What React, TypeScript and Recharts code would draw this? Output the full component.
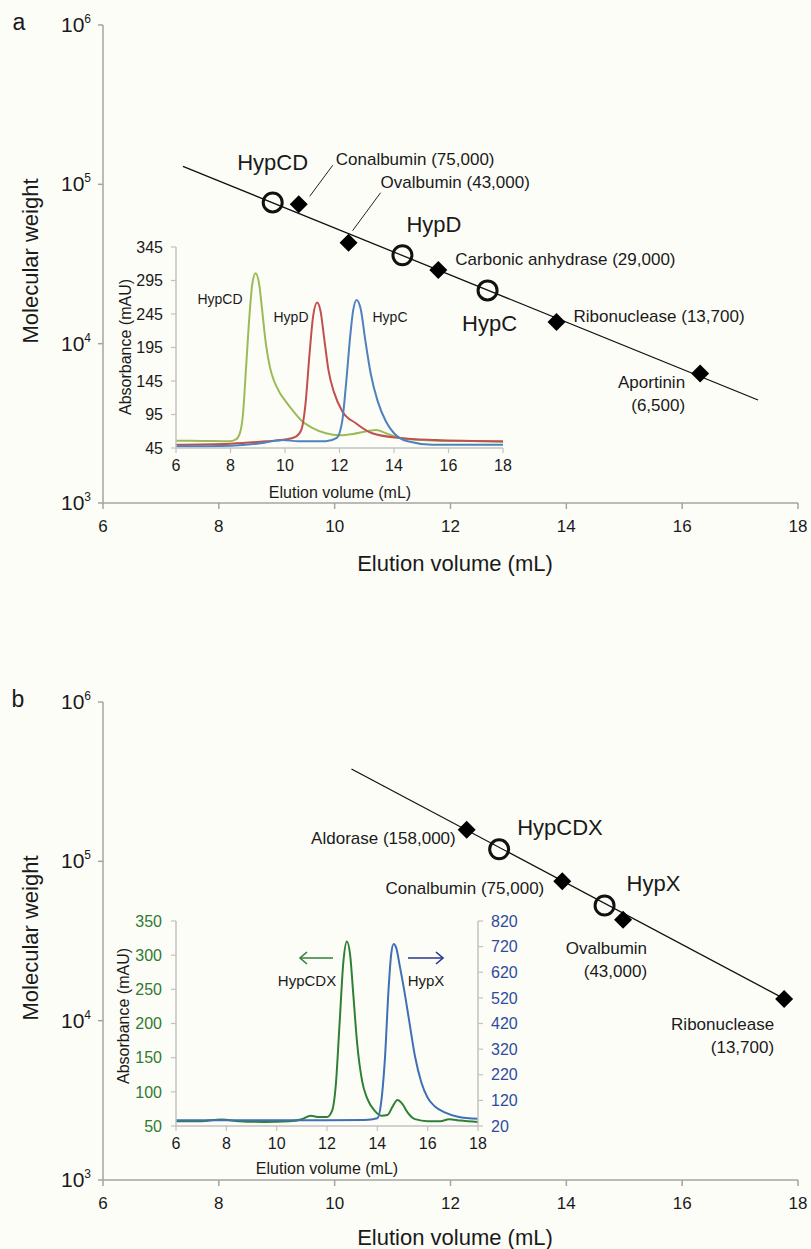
import React from 'react';
import { ComposedChart, XAxis, YAxis, Line, Scatter } from 'recharts';

// ---------- Panel a : calibration ----------
const stdA_names = ['Conalbumin', 'Ovalbumin', 'Carbonic anhydrase', 'Ribonuclease', 'Aportinin'];
const stdA_volume = [9.38, 10.24, 11.79, 13.83, 16.31];
const stdA_mw = [75000, 43000, 29000, 13700, 6500];
const smpA_names = ['HypCD', 'HypD', 'HypC'];
const smpA_volume = [8.93, 11.17, 12.64];
const smpA_mw = [77000, 35900, 21600];
const fitA_volume = [7.38, 17.31];
const fitA_mw = [129700, 4430];

// ---------- Panel b : calibration ----------
const stdB_names = ['Aldorase', 'Conalbumin', 'Ovalbumin', 'Ribonuclease'];
const stdB_volume = [12.28, 13.93, 14.98, 17.76];
const stdB_mw = [158000, 75000, 43000, 13700];
const smpB_names = ['HypCDX', 'HypX'];
const smpB_volume = [12.84, 14.66];
const smpB_mw = [119000, 52800];
const fitB_volume = [10.29, 17.8];
const fitB_mw = [380000, 13500];

const mainTicksX = [6, 8, 10, 12, 14, 16, 18];
const mainTicksY = [1000, 10000, 100000, 1000000];

// ---------- Inset a : chromatograms (mAU) ----------
const insetTicksX = [6, 8, 10, 12, 14, 16, 18];
const insetA_ticksY = [45, 95, 145, 195, 245, 295, 345];
const hypCD_x = [6, 7, 7.96, 8.2, 8.35, 8.45, 8.58, 8.7, 8.8, 8.92, 9.05, 9.15, 9.3, 9.45, 9.6, 9.8, 10.0, 10.3, 10.6, 11.0, 11.5, 12.0, 12.5, 13.0, 13.35, 13.7, 14.1, 14.6, 15.5, 16.5, 17.5, 18];
const hypCD_y = [56, 55.5, 55, 58, 68, 92, 171, 245, 290, 306, 290, 255, 200, 165, 145, 128, 116, 100, 86, 75, 67, 64, 66, 70, 72, 67, 61, 58, 56, 55.5, 55, 54];
const hypD_x = [6, 8, 9.3, 10.05, 10.4, 10.6, 10.75, 10.9, 11.03, 11.18, 11.3, 11.45, 11.6, 11.8, 12.1, 12.6, 13.2, 14.2, 15.5, 18];
const hypD_y = [50, 51.5, 55, 58, 62, 72, 110, 185, 241, 262, 250, 205, 160, 128, 100, 82, 67, 60, 57, 55];
const hypC_x = [6, 8, 9.1, 9.9, 10.5, 11.5, 11.9, 12.1, 12.25, 12.4, 12.5, 12.63, 12.78, 12.95, 13.15, 13.4, 13.7, 14.0, 14.5, 15.4, 18];
const hypC_y = [47.5, 48.5, 52, 57, 55, 55, 60, 85, 145, 215, 250, 266, 252, 205, 155, 115, 85, 67, 55, 50, 50];

// ---------- Inset b : chromatograms ----------
const insetB_ticksLeft = [50, 100, 150, 200, 250, 300, 350];
const insetB_ticksRight = [20, 120, 220, 320, 420, 520, 620, 720, 820];
const hypCDX_x = [6, 7, 7.8, 8.5, 9.5, 10.5, 11.0, 11.35, 11.7, 12.0, 12.2, 12.35, 12.5, 12.65, 12.79, 12.92, 13.05, 13.2, 13.4, 13.6, 13.9, 14.15, 14.4, 14.6, 14.8, 15.0, 15.2, 15.5, 16.0, 16.5, 16.85, 17.3, 18];
const hypCDX_y = [57, 57, 59.5, 57, 56, 57, 60, 65, 63, 63, 72, 110, 200, 290, 320, 300, 240, 170, 115, 90, 72, 65, 66, 78, 88, 82, 70, 60, 57, 57, 60, 58, 56];
const hypX_x = [6, 8, 10, 12, 13.5, 14.0, 14.15, 14.3, 14.45, 14.55, 14.65, 14.75, 14.9, 15.05, 15.25, 15.5, 15.75, 16.0, 16.3, 16.7, 17.2, 18];
const hypX_y = [42, 42, 42, 42, 43, 50, 110, 280, 560, 690, 730, 715, 640, 560, 440, 290, 190, 130, 95, 72, 56, 48];

// ---------- styles ----------
const FONT = '"Liberation Sans", Arial, Helvetica, sans-serif';
const BG = '#fdfdf8';
const TXT = '#1a1a1a';
const AX_MAIN = '#a3a3a3';
const AX_INSET = '#c2c2c2';
const C_GREEN_A = '#9bbb59';
const C_RED_A = '#c0504d';
const C_BLUE_A = '#4f81bd';
const C_GREEN_B = '#2f8036';
const C_BLUE_B = '#3f6fb5';
const T_GREEN_B = '#2f7a31';
const T_BLUE_B = '#2d4c9e';
const ARROW_BLUE = '#2a3592';

type LabelSpec = { dx: number; dy: number; anchor: 'start' | 'middle' | 'end'; split?: boolean; leader?: [number, number, number, number] };

const layoutA: Record<string, LabelSpec> = {
  Conalbumin: { dx: 37, dy: -45, anchor: 'start', leader: [11, -8, 34, -39] },
  Ovalbumin: { dx: 32, dy: -60, anchor: 'start', leader: [4, -12, 32, -50] },
  'Carbonic anhydrase': { dx: 17, dy: -10, anchor: 'start' },
  Ribonuclease: { dx: 17, dy: -5, anchor: 'start' },
  Aportinin: { dx: -15, dy: 9, anchor: 'end', split: true },
  HypCD: { dx: 0, dy: -40, anchor: 'middle' },
  HypD: { dx: 4, dy: -31, anchor: 'start' },
  HypC: { dx: 2, dy: 33, anchor: 'middle' },
};
const layoutB: Record<string, LabelSpec> = {
  Aldorase: { dx: -11, dy: 9, anchor: 'end' },
  Conalbumin: { dx: -18, dy: 7, anchor: 'end' },
  Ovalbumin: { dx: 24, dy: 29, anchor: 'end', split: true },
  Ribonuclease: { dx: -10, dy: 26, anchor: 'end', split: true },
  HypCDX: { dx: 18, dy: -22, anchor: 'start' },
  HypX: { dx: 22, dy: -22, anchor: 'start' },
};

const zipXY = (xs: number[], ys: number[]) => xs.map((x, i) => ({ x, y: ys[i] }));
const zipPts = (names: string[], vs: number[], mws: number[]) => names.map((name, i) => ({ name, v: vs[i], mw: mws[i] }));
const zipFit = (vs: number[], mws: number[]) => vs.map((v, i) => ({ v, mw: mws[i] }));

const fmt = (n: number) => n.toLocaleString('en-US');

const makeStdShape = (layout: Record<string, LabelSpec>) => (props: any) => {
  const { cx, cy } = props;
  const p = props.payload || props;
  const L = layout[p.name];
  const h = 9;
  if (cx == null || cy == null) return <g />;
  return (
    <g>
      <polygon points={`${cx},${cy - h} ${cx + h},${cy} ${cx},${cy + h} ${cx - h},${cy}`} fill="#000" />
      {L && L.leader && (
        <line x1={cx + L.leader[0]} y1={cy + L.leader[1]} x2={cx + L.leader[2]} y2={cy + L.leader[3]} stroke="#222" strokeWidth={1} />
      )}
      {L && !L.split && (
        <text x={cx + L.dx} y={cy + L.dy} textAnchor={L.anchor} dominantBaseline="central" fontSize={17} fill={TXT} fontFamily={FONT}>
          {`${p.name} (${fmt(p.mw)})`}
        </text>
      )}
      {L && L.split && (
        <g>
          <text x={cx + L.dx} y={cy + L.dy} textAnchor={L.anchor} dominantBaseline="central" fontSize={17} fill={TXT} fontFamily={FONT}>
            {p.name}
          </text>
          <text x={cx + L.dx} y={cy + L.dy + 23} textAnchor={L.anchor} dominantBaseline="central" fontSize={17} fill={TXT} fontFamily={FONT}>
            {`(${fmt(p.mw)})`}
          </text>
        </g>
      )}
    </g>
  );
};

const makeSmpShape = (layout: Record<string, LabelSpec>) => (props: any) => {
  const { cx, cy } = props;
  const p = props.payload || props;
  const L = layout[p.name];
  if (cx == null || cy == null) return <g />;
  return (
    <g>
      <circle cx={cx} cy={cy} r={9.5} fill="none" stroke="#111" strokeWidth={3} />
      {L && (
        <text x={cx + L.dx} y={cy + L.dy} textAnchor={L.anchor} dominantBaseline="central" fontSize={22} fill={TXT} fontFamily={FONT}>
          {p.name}
        </text>
      )}
    </g>
  );
};

const LogTick = (props: any) => {
  const { x, y, payload } = props;
  const e = Math.round(Math.log10(payload.value));
  return (
    <text x={x - 3} y={y + 7} textAnchor="end" fill={TXT} fontFamily={FONT}>
      <tspan fontSize={21}>10</tspan>
      <tspan fontSize={12} dy={-9}>{e}</tspan>
    </text>
  );
};

const Calibration = ({ top, standards, samples, fit, layout }: any) => (
  <div style={{ position: 'absolute', left: 0, top, width: 811, height: 600 }}>
    <ComposedChart width={811} height={600} margin={{ top: 25, right: 13, bottom: 0, left: 0 }}>
      <XAxis
        type="number"
        dataKey="v"
        domain={[6, 18]}
        ticks={mainTicksX}
        interval={0}
        allowDataOverflow
        height={97}
        axisLine={{ stroke: AX_MAIN, strokeWidth: 1.5 }}
        tickLine={{ stroke: AX_MAIN, strokeWidth: 1.5 }}
        tickSize={6}
        tickMargin={11}
        tick={{ fontSize: 17, fill: TXT, fontFamily: FONT }}
      />
      <YAxis
        type="number"
        dataKey="mw"
        scale="log"
        domain={[1000, 1000000]}
        ticks={mainTicksY}
        interval={0}
        allowDataOverflow
        width={103}
        axisLine={{ stroke: AX_MAIN, strokeWidth: 1.5 }}
        tickLine={{ stroke: AX_MAIN, strokeWidth: 1.5 }}
        tickSize={5}
        tickMargin={4}
        tick={<LogTick />}
      />
      <Line data={fit} dataKey="mw" type="linear" stroke="#111" strokeWidth={1.3} dot={false} activeDot={false} isAnimationActive={false} />
      <Scatter data={standards} dataKey="mw" shape={makeStdShape(layout)} isAnimationActive={false} />
      <Scatter data={samples} dataKey="mw" shape={makeSmpShape(layout)} isAnimationActive={false} />
    </ComposedChart>
  </div>
);

const insetX = (height: number) => (
  <XAxis
    type="number"
    dataKey="x"
    domain={[6, 18]}
    ticks={insetTicksX}
    interval={0}
    allowDataOverflow
    height={height}
    axisLine={{ stroke: AX_INSET, strokeWidth: 1.5 }}
    tickLine={{ stroke: AX_INSET, strokeWidth: 1.2 }}
    tickSize={5}
    tickMargin={7}
    tick={{ fontSize: 16, fill: TXT, fontFamily: FONT }}
  />
);

const InsetA = () => (
  <div style={{ position: 'absolute', left: 100, top: 230, width: 420, height: 280 }}>
    <ComposedChart width={420} height={280} margin={{ top: 17, right: 17, bottom: 0, left: 0 }}>
      {insetX(62)}
      <YAxis
        type="number"
        domain={[45, 345]}
        ticks={insetA_ticksY}
        interval={0}
        allowDataOverflow
        width={76}
        axisLine={{ stroke: AX_INSET, strokeWidth: 1.5 }}
        tickLine={{ stroke: AX_INSET, strokeWidth: 1.2 }}
        tickSize={5}
        tickMargin={8}
        tick={{ fontSize: 16, fill: TXT, fontFamily: FONT }}
      />
      <Line data={zipXY(hypCD_x, hypCD_y)} dataKey="y" type="monotone" stroke={C_GREEN_A} strokeWidth={2} dot={false} activeDot={false} isAnimationActive={false} />
      <Line data={zipXY(hypD_x, hypD_y)} dataKey="y" type="monotone" stroke={C_RED_A} strokeWidth={2} dot={false} activeDot={false} isAnimationActive={false} />
      <Line data={zipXY(hypC_x, hypC_y)} dataKey="y" type="monotone" stroke={C_BLUE_A} strokeWidth={2} dot={false} activeDot={false} isAnimationActive={false} />
    </ComposedChart>
  </div>
);

const InsetB = () => (
  <div style={{ position: 'absolute', left: 100, top: 880, width: 420, height: 310 }}>
    <ComposedChart width={420} height={310} margin={{ top: 41, right: 0, bottom: 0, left: 0 }}>
      {insetX(64)}
      <YAxis
        yAxisId="left"
        orientation="left"
        type="number"
        domain={[50, 350]}
        ticks={insetB_ticksLeft}
        interval={0}
        allowDataOverflow
        width={76}
        axisLine={{ stroke: AX_INSET, strokeWidth: 1.5 }}
        tickLine={{ stroke: AX_INSET, strokeWidth: 1.2 }}
        tickSize={5}
        tickMargin={9}
        tick={{ fontSize: 16, fill: T_GREEN_B, fontFamily: FONT }}
      />
      <YAxis
        yAxisId="right"
        orientation="right"
        type="number"
        domain={[20, 820]}
        ticks={insetB_ticksRight}
        interval={0}
        allowDataOverflow
        width={42}
        axisLine={{ stroke: AX_INSET, strokeWidth: 1.5 }}
        tickLine={{ stroke: AX_INSET, strokeWidth: 1.2 }}
        tickSize={5}
        tickMargin={8}
        tick={{ fontSize: 16, fill: T_BLUE_B, fontFamily: FONT }}
      />
      <Line yAxisId="left" data={zipXY(hypCDX_x, hypCDX_y)} dataKey="y" type="monotone" stroke={C_GREEN_B} strokeWidth={2} dot={false} activeDot={false} isAnimationActive={false} />
      <Line yAxisId="right" data={zipXY(hypX_x, hypX_y)} dataKey="y" type="monotone" stroke={C_BLUE_B} strokeWidth={2} dot={false} activeDot={false} isAnimationActive={false} />
    </ComposedChart>
  </div>
);

const T = ({ x, y, size, children, rotate, anchor, fill }: any) => (
  <text
    x={x}
    y={y}
    fontSize={size}
    textAnchor={anchor || 'middle'}
    dominantBaseline="central"
    fill={fill || TXT}
    fontFamily={FONT}
    transform={rotate ? `rotate(-90 ${x} ${y})` : undefined}
  >
    {children}
  </text>
);

const Overlay = () => (
  <svg width={811} height={1249} style={{ position: 'absolute', left: 0, top: 0, pointerEvents: 'none' }}>
    {/* panel letters */}
    <T x={19} y={22} size={23}>a</T>
    <T x={18} y={699} size={23}>b</T>
    {/* panel a titles */}
    <T x={455} y={563} size={22}>Elution volume (mL)</T>
    <T x={30} y={261} size={22} rotate>Molecular weight</T>
    <T x={340} y={492} size={16}>Elution volume (mL)</T>
    <T x={125} y={347} size={16} rotate>Absorbance (mAU)</T>
    <T x={220} y={299} size={14}>HypCD</T>
    <T x={291} y={317} size={14}>HypD</T>
    <T x={390} y={317} size={14}>HypC</T>
    {/* panel b titles */}
    <T x={455} y={1237} size={22}>Elution volume (mL)</T>
    <T x={30} y={938} size={22} rotate>Molecular weight</T>
    <T x={327} y={1168} size={16}>Elution volume (mL)</T>
    <T x={123} y={1016} size={16} rotate>Absorbance (mAU)</T>
    <T x={307} y={980} size={15}>HypCDX</T>
    <T x={426} y={980} size={15}>HypX</T>
    {/* arrows */}
    <g stroke={C_GREEN_B} strokeWidth={1.6} fill="none">
      <line x1={300} y1={958} x2={333} y2={958} />
      <polyline points="307,952 300,958 307,964" />
    </g>
    <g stroke={ARROW_BLUE} strokeWidth={1.6} fill="none">
      <line x1={408} y1={958} x2={443} y2={958} />
      <polyline points="436,952 443,958 436,964" />
    </g>
  </svg>
);

export default function App() {
  const stdA = zipPts(stdA_names, stdA_volume, stdA_mw);
  const smpA = zipPts(smpA_names, smpA_volume, smpA_mw);
  const stdB = zipPts(stdB_names, stdB_volume, stdB_mw);
  const smpB = zipPts(smpB_names, smpB_volume, smpB_mw);
  return (
    <div style={{ position: 'absolute', left: 0, top: 0, width: 811, height: 1249, background: BG, fontFamily: FONT, overflow: 'hidden' }}>
      <Calibration top={0} standards={stdA} samples={smpA} fit={zipFit(fitA_volume, fitA_mw)} layout={layoutA} />
      <Calibration top={677} standards={stdB} samples={smpB} fit={zipFit(fitB_volume, fitB_mw)} layout={layoutB} />
      <InsetA />
      <InsetB />
      <Overlay />
    </div>
  );
}
